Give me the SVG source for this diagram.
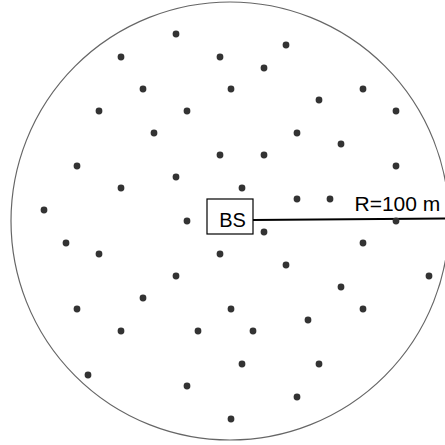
<svg xmlns="http://www.w3.org/2000/svg" width="445" height="445" viewBox="0 0 445 445">
<style>
.u{fill:#333}
.lbl{font-family:"Liberation Sans",Arial,sans-serif;fill:#000}
</style>
<rect width="445" height="445" fill="#fff"/>
<circle id="cell" cx="230" cy="221" r="219" fill="none" stroke="#666" stroke-width="1.2"/>
<g id="connectors">
<line x1="253" y1="220" x2="445" y2="218.5" stroke="#000" stroke-width="2.2"/>
</g>
<g id="users">
<circle class="u" cx="176" cy="34" r="3.4"/>
<circle class="u" cx="286" cy="45" r="3.4"/>
<circle class="u" cx="121" cy="57" r="3.4"/>
<circle class="u" cx="220" cy="57" r="3.4"/>
<circle class="u" cx="264" cy="68" r="3.4"/>
<circle class="u" cx="143" cy="89" r="3.4"/>
<circle class="u" cx="231" cy="89" r="3.4"/>
<circle class="u" cx="363" cy="89" r="3.4"/>
<circle class="u" cx="319" cy="100" r="3.4"/>
<circle class="u" cx="99" cy="111" r="3.4"/>
<circle class="u" cx="187" cy="111" r="3.4"/>
<circle class="u" cx="396" cy="111" r="3.4"/>
<circle class="u" cx="154" cy="133" r="3.4"/>
<circle class="u" cx="297" cy="133" r="3.4"/>
<circle class="u" cx="341" cy="144" r="3.4"/>
<circle class="u" cx="220" cy="155" r="3.4"/>
<circle class="u" cx="264" cy="155" r="3.4"/>
<circle class="u" cx="77" cy="166" r="3.4"/>
<circle class="u" cx="396" cy="166" r="3.4"/>
<circle class="u" cx="176" cy="177" r="3.4"/>
<circle class="u" cx="121" cy="188" r="3.4"/>
<circle class="u" cx="242" cy="188" r="3.4"/>
<circle class="u" cx="297" cy="199" r="3.4"/>
<circle class="u" cx="330" cy="199" r="3.4"/>
<circle class="u" cx="44" cy="210" r="3.4"/>
<circle class="u" cx="187" cy="221" r="3.4"/>
<circle class="u" cx="396" cy="221" r="3.4"/>
<circle class="u" cx="264" cy="232" r="3.4"/>
<circle class="u" cx="66" cy="243" r="3.4"/>
<circle class="u" cx="363" cy="243" r="3.4"/>
<circle class="u" cx="99" cy="254" r="3.4"/>
<circle class="u" cx="220" cy="254" r="3.4"/>
<circle class="u" cx="286" cy="265" r="3.4"/>
<circle class="u" cx="176" cy="276" r="3.4"/>
<circle class="u" cx="429" cy="276" r="3.4"/>
<circle class="u" cx="341" cy="287" r="3.4"/>
<circle class="u" cx="143" cy="298" r="3.4"/>
<circle class="u" cx="77" cy="309" r="3.4"/>
<circle class="u" cx="231" cy="309" r="3.4"/>
<circle class="u" cx="363" cy="309" r="3.4"/>
<circle class="u" cx="308" cy="320" r="3.4"/>
<circle class="u" cx="121" cy="331" r="3.4"/>
<circle class="u" cx="198" cy="331" r="3.4"/>
<circle class="u" cx="253" cy="331" r="3.4"/>
<circle class="u" cx="242" cy="364" r="3.4"/>
<circle class="u" cx="319" cy="364" r="3.4"/>
<circle class="u" cx="88" cy="375" r="3.4"/>
<circle class="u" cx="187" cy="386" r="3.4"/>
<circle class="u" cx="297" cy="397" r="3.4"/>
<circle class="u" cx="231" cy="419" r="3.4"/>
</g>
<g id="bs">
<rect x="207" y="199" width="46" height="35" fill="#fff" stroke="#000" stroke-width="1.2"/>
<text class="lbl" x="232.5" y="226.5" font-size="20" text-anchor="middle">BS</text>
</g>
<g id="radius-label">
<text class="lbl" x="354.5" y="211" font-size="21">R=100 m</text>
</g>
</svg>
